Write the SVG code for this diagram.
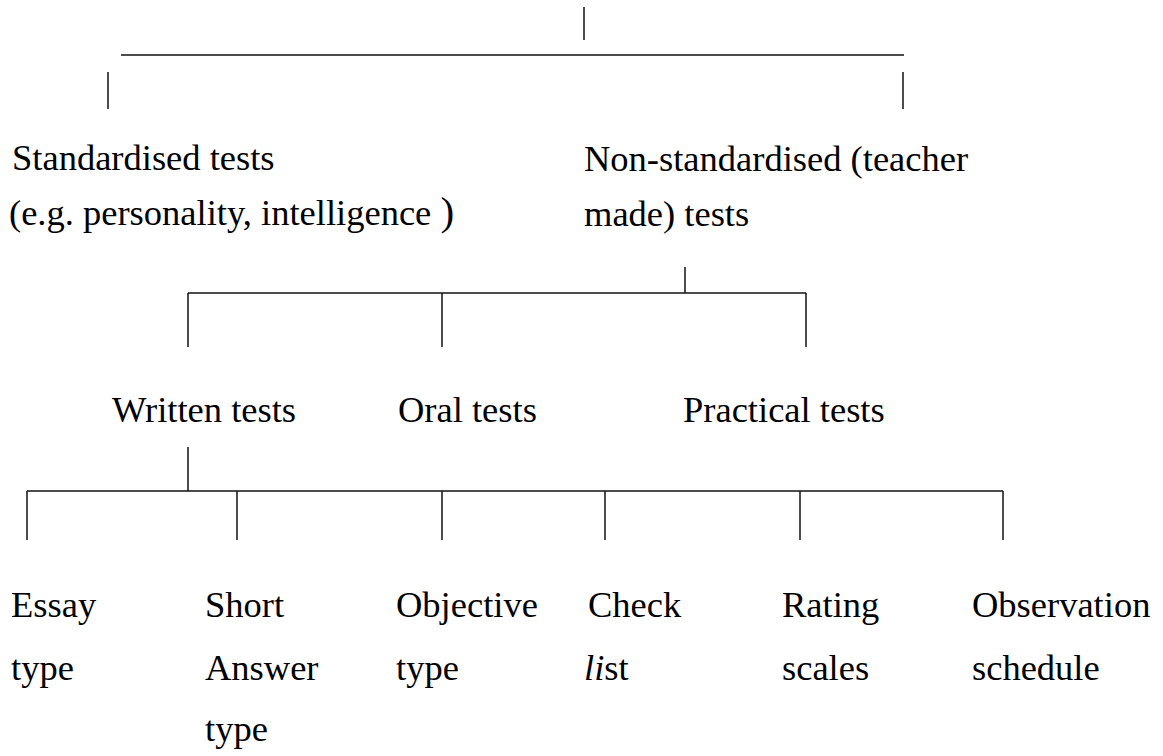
<svg xmlns="http://www.w3.org/2000/svg" width="1163" height="756" viewBox="0 0 1163 756">
  <style>
    .lbl { font-family: "Liberation Serif", "Times New Roman", serif; font-size: 36.5px; fill: #000; }
    .wire { stroke: #111; stroke-width: 1.5; fill: none; stroke-linecap: butt; }
  </style>
  <rect width="1163" height="756" fill="#fff"/>

  <!-- tree connectors -->
  <g id="connectors" class="wire">
    <!-- root split -->
    <path d="M584 7 V40"/>
    <path d="M121 55 H904"/>
    <path d="M108 72 V109"/>
    <path d="M903 72 V109"/>
    <!-- non-standardised split -->
    <path d="M685 267 V293"/>
    <path d="M188 293 H806"/>
    <path d="M188 293 V347"/>
    <path d="M442 293 V347"/>
    <path d="M806 293 V347"/>
    <!-- written tests split -->
    <path d="M188 447 V491"/>
    <path d="M27 491 H1003"/>
    <path d="M27 491 V540"/>
    <path d="M237 491 V540"/>
    <path d="M442 491 V540"/>
    <path d="M605 491 V540"/>
    <path d="M800 491 V540"/>
    <path d="M1003 491 V540"/>
  </g>

  <g id="standardised" class="lbl">
    <text x="12" y="170">Standardised tests</text>
    <text x="9" y="225">(e.g. personality, intelligence <tspan font-size="41">)</tspan></text>
  </g>
  <g id="non-standardised" class="lbl">
    <text x="584" y="171">Non-standardised (teacher</text>
    <text x="584" y="226">made) tests</text>
  </g>
  <g id="written" class="lbl"><text x="112" y="422">Written tests</text></g>
  <g id="oral" class="lbl"><text x="398" y="422">Oral tests</text></g>
  <g id="practical" class="lbl"><text x="683" y="422">Practical tests</text></g>

  <g id="essay" class="lbl">
    <text x="11" y="617">Essay</text>
    <text x="11" y="680">type</text>
  </g>
  <g id="short-answer" class="lbl">
    <text x="205" y="617">Short</text>
    <text x="205" y="680">Answer</text>
    <text x="205" y="741">type</text>
  </g>
  <g id="objective" class="lbl">
    <text x="396" y="617">Objective</text>
    <text x="396" y="680">type</text>
  </g>
  <g id="checklist" class="lbl">
    <text x="588" y="617">Check</text>
    <text x="584" y="680"><tspan font-style="italic">li</tspan>st</text>
  </g>
  <g id="rating" class="lbl">
    <text x="782" y="617">Rating</text>
    <text x="782" y="680">scales</text>
  </g>
  <g id="observation" class="lbl">
    <text x="972" y="617">Observation</text>
    <text x="972" y="680">schedule</text>
  </g>
</svg>
